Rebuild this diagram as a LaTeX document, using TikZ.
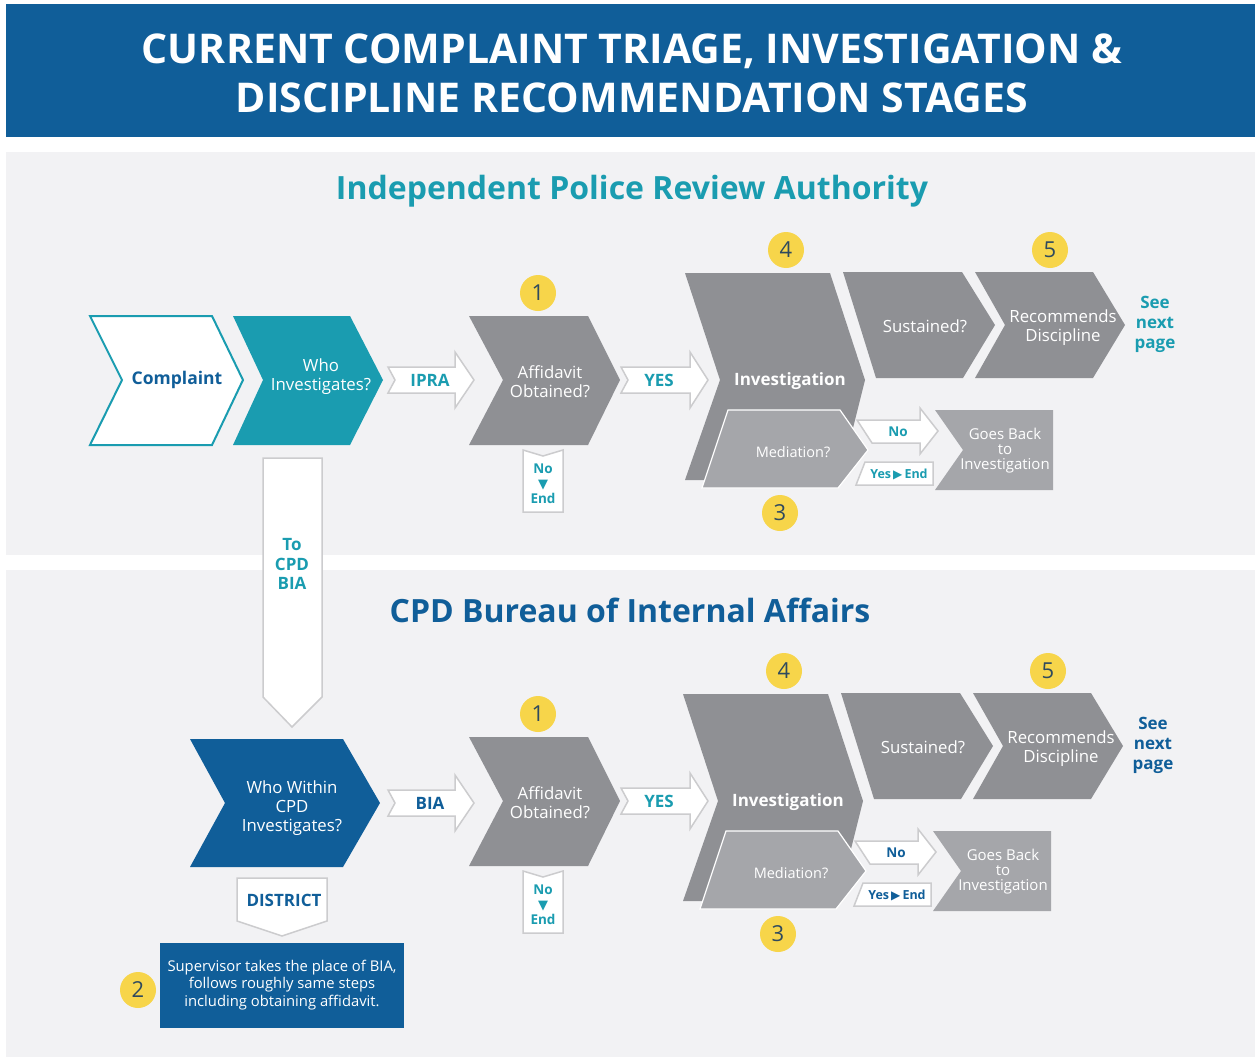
\documentclass[tikz,border=0pt]{standalone}
\usepackage{fontspec}
\setmainfont{Open Sans}
\newfontfamily\dejavu{DejaVu Sans}
\definecolor{dblue}{RGB}{16,94,153}
\definecolor{tealc}{RGB}{26,156,176}
\definecolor{gdark}{RGB}{143,144,148}
\definecolor{glight}{RGB}{165,166,170}
\definecolor{panelc}{RGB}{242,242,244}
\definecolor{yell}{RGB}{247,213,74}
\definecolor{numc}{RGB}{47,74,94}
\definecolor{outl}{RGB}{204,204,206}
\tikzset{
  darkshape/.style={fill=gdark},
  lightshape/.style={fill=glight, draw=white, line width=1.2pt},
  whitearrow/.style={fill=white, draw=outl, line width=1.5pt, line join=miter},
  lbl/.style={text=white, align=center, inner sep=0pt, font=\fontsize{16.8}{19}\selectfont},
  lbls/.style={text=white, align=center, inner sep=0pt, font=\fontsize{14.5}{15}\selectfont},
  blbl/.style={align=center, inner sep=0pt, font=\bfseries\fontsize{17}{19.5}\selectfont},
  smallb/.style={align=center, inner sep=0pt, font=\bfseries\fontsize{13.5}{15}\selectfont},
  num/.style={circle, fill=yell, minimum size=36pt, inner sep=0pt, text=numc, font=\fontsize{22}{22}\selectfont},
}
\begin{document}
\begin{tikzpicture}[x=1pt,y=-1pt]
\useasboundingbox (0,0) rectangle (1255,1057);
\fill[white] (0,0) rectangle (1255,1057);
% title band
\fill[dblue] (6,4) rectangle (1255,137);
\node[text=white, align=center, inner sep=0pt, font=\bfseries\fontsize{41}{49}\selectfont] (title) at (632,73) {CURRENT COMPLAINT TRIAGE, INVESTIGATION \&\\DISCIPLINE RECOMMENDATION STAGES};
% panels
\fill[panelc] (6,152) rectangle (1255,555);
\fill[panelc] (6,570) rectangle (1255,1057);
\node[text=tealc, inner sep=0pt, font=\bfseries\fontsize{32}{36}\selectfont] (ipratitle) at (632,191) {Independent Police Review Authority};
\node[text=dblue, inner sep=0pt, font=\bfseries\fontsize{32}{36}\selectfont] (biatitle) at (630,610) {CPD Bureau of Internal Affairs};

% ---------- top-left ----------
\fill[white, draw=tealc, line width=2pt] (90,316) -- (212,316) -- (243,380) -- (212,445) -- (90,445) -- (122,380) -- cycle;
\node[blbl, text=dblue, font=\bfseries\fontsize{17.5}{20}\selectfont] (complaint) at (177,380) {Complaint};
\fill[tealc] (233,316) -- (350,316) -- (383,380) -- (350,445) -- (233,445) -- (263,380) -- cycle;
\node[lbl] (who) at (321,377) {Who\\Investigates?};
\draw[whitearrow] (388,367) -- (455,367) -- (455,352) -- (474,380) -- (455,408) -- (455,393) -- (388,393) -- (395,380) -- cycle;
\node[blbl, text=tealc] (ipra) at (430,380) {IPRA};
% To CPD BIA arrow
\draw[whitearrow] (263,458) -- (322,458) -- (322,697) -- (292,727) -- (263,697) -- cycle;
\node[blbl, text=tealc] (tocpd) at (292,564) {To\\CPD\\BIA};

% ---------- bottom-left ----------
\fill[dblue] (190,739) -- (343,739) -- (380,803) -- (343,867) -- (190,867) -- (225,803) -- cycle;
\node[lbl] (whowithin) at (292,808) {Who Within\\CPD\\Investigates?};
\draw[whitearrow] (388,790) -- (455,790) -- (455,775) -- (474,803) -- (455,831) -- (455,816) -- (388,816) -- (395,803) -- cycle;
\node[blbl, text=dblue] (bia) at (430,803) {BIA};
\draw[whitearrow] (237,878) -- (327,878) -- (327,921) -- (282,936) -- (237,921) -- cycle;
\node[blbl, text=dblue, font=\bfseries\fontsize{17}{18}\selectfont] (district) at (284,900) {DISTRICT};
\fill[dblue] (160,943) rectangle (404,1028);
\node[lbls, font=\fontsize{14.8}{17.5}\selectfont] (superv) at (282,985) {Supervisor takes the place of BIA,\\follows roughly same steps\\including obtaining affidavit.};
\node[num] (n2) at (138,990) {2};

% ---------- shared rows ----------
\foreach \r/\dy/\dx/\cl in {a/0/0/tealc, b/421/-2/dblue}{
\begin{scope}[shift={(0,\dy)}]
  \fill[darkshape] (469,316) -- (588,316) -- (620,380) -- (588,445) -- (469,445) -- (503,380) -- cycle;
  \node[lbl] (aff\r) at (550,382) {Affidavit\\Obtained?};
  \node[num] (n1\r) at (538,293) {1};
  \draw[whitearrow] (523,450) -- (543,456) -- (563,450) -- (563,512) -- (523,512) -- cycle;
  \node[smallb, text=tealc] (noend\r) at (543,484) {No\\{\dejavu\fontsize{13}{13}\selectfont ▼}\\End};
  \draw[whitearrow] (621,367) -- (690,367) -- (690,352) -- (708,380) -- (690,408) -- (690,393) -- (621,393) -- (628,380) -- cycle;
  \node[blbl, text=tealc] (yes\r) at (659,380) {YES};
  \begin{scope}[shift={(\dx,0)}]
    \fill[darkshape] (685,273) -- (830,273) -- (865,380) -- (840,480) -- (685,480) -- (720,380) -- cycle;
    \node[blbl, text=white] (inv\r) at (790,381) {Investigation};
    \fill[lightshape] (728,410) -- (840,410) -- (868,450) -- (838,488) -- (702,488) -- cycle;
    \node[lbls] (med\r) at (793,452) {Mediation?};
    \node[num] (n4\r) at (786,250) {4};
    \node[num] (n3\r) at (780,513) {3};
    \fill[darkshape] (843,272) -- (962,272) -- (995,325) -- (963,378) -- (876,378) -- cycle;
    \node[lbl] (sus\r) at (925,326) {Sustained?};
    \fill[darkshape] (975,272) -- (1093,272) -- (1125,325) -- (1093,378) -- (975,378) -- (1005,325) -- cycle;
    \node[lbl] (rec\r) at (1063,328) {Recommends\\Discipline};
    \node[num] (n5\r) at (1050,250) {5};
    \node[blbl, text=\cl, font=\bfseries\fontsize{17}{20}\selectfont] (see\r) at (1155,324) {See\\next\\page};
    \draw[whitearrow] (857,420) -- (920,420) -- (920,408) -- (938,431) -- (920,454) -- (920,443) -- (872,443) -- cycle;
    \node[smallb, text=\cl] (no\r) at (898,432) {No};
    \draw[whitearrow] (865,462) -- (933,462) -- (933,485) -- (856,485) -- cycle;
    \node[smallb, text=\cl, font=\bfseries\fontsize{12.5}{14}\selectfont] (yesend\r) at (899,474) {Yes\,{\dejavu\fontsize{12}{12}\selectfont ▶}\,End};
    \fill[lightshape, draw=none] (935,410) -- (1053,410) -- (1053,490) -- (935,490) -- (963,450) -- cycle;
    \node[lbls, font=\fontsize{15}{15}\selectfont] (goes\r) at (1005,451) {Goes Back\\to\\Investigation};
  \end{scope}
\end{scope}
}
\end{tikzpicture}
\end{document}
